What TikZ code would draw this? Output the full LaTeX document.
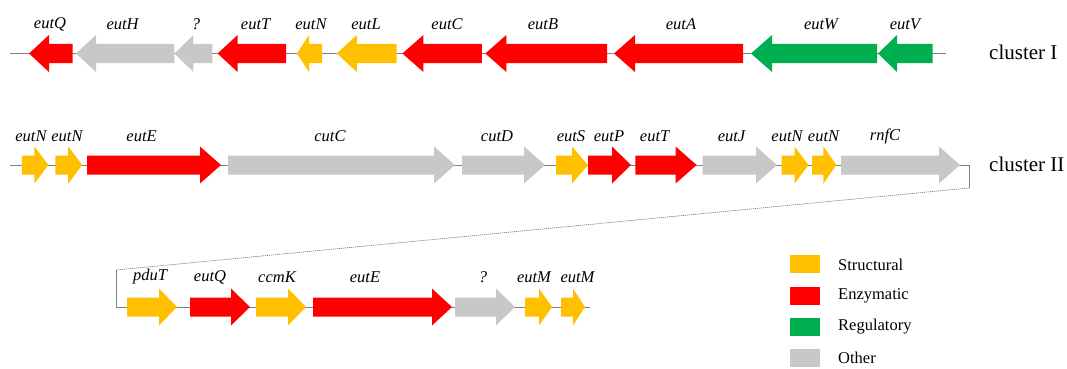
\documentclass[tikz,border=0pt]{standalone}
\usepackage{fontspec}
\setmainfont{Liberation Serif}
\definecolor{gY}{HTML}{FFC000}
\definecolor{gR}{HTML}{FF0000}
\definecolor{gG}{HTML}{00B050}
\definecolor{gO}{HTML}{C8C8C8}
\definecolor{ln}{HTML}{808080}
\newcommand{\geneR}[5]{\fill[#4] (#1,{#3-9.5}) -- ({#2-#5},{#3-9.5}) -- ({#2-#5},{#3-18.5}) -- (#2,#3) -- ({#2-#5},{#3+18.5}) -- ({#2-#5},{#3+9.5}) -- (#1,{#3+9.5}) -- cycle;}
\newcommand{\geneL}[5]{\fill[#4] (#2,{#3-9.5}) -- ({#1+#5},{#3-9.5}) -- ({#1+#5},{#3-18.5}) -- (#1,#3) -- ({#1+#5},{#3+18.5}) -- ({#1+#5},{#3+9.5}) -- (#2,{#3+9.5}) -- cycle;}
\begin{document}
\begin{tikzpicture}[x=1pt,y=-1pt,
  lbl/.style={font=\fontsize{16.5}{20}\selectfont\itshape, inner sep=0pt},
  clab/.style={font=\fontsize{21}{24}\selectfont, anchor=west, inner sep=0pt},
  leg/.style={font=\fontsize{16.5}{19}\selectfont, anchor=west, inner sep=0pt},
  bb/.style={draw=ln, line width=0.8pt}]
\useasboundingbox (0,0) rectangle (1067,369);
% ---------- cluster I ----------
\coordinate (a0) at (10,53.5); \coordinate (a1) at (946,53.5);
\draw[bb] (a0) -- (a1);
\geneL{29}{72.5}{53.5}{gR}{20}
\geneL{76}{174.4}{53.5}{gO}{20}
\geneL{174.4}{212.4}{53.5}{gO}{19}
\geneL{217.6}{286}{53.5}{gR}{20}
\geneL{297}{322}{53.5}{gY}{12}
\geneL{336.8}{396.5}{53.5}{gY}{20}
\geneL{402.4}{481.9}{53.5}{gR}{21}
\geneL{485.3}{607}{53.5}{gR}{21}
\geneL{614}{743}{53.5}{gR}{21}
\geneL{751}{877}{53.5}{gG}{21}
\geneL{878}{932.6}{53.5}{gG}{19}
\node[lbl] (l1) at (50,24) {eutQ};
\node[lbl] (l2) at (122.6,24) {eutH};
\node[lbl] (l3) at (196,24) {?};
\node[lbl] (l4) at (255.6,24) {eutT};
\node[lbl] (l5) at (311,24) {eutN};
\node[lbl] (l6) at (366,24) {eutL};
\node[lbl] (l7) at (447,24) {eutC};
\node[lbl] (l8) at (543,24) {eutB};
\node[lbl] (l9) at (681,24) {eutA};
\node[lbl] (l10) at (821,24) {eutW};
\node[lbl] (l11) at (905,24) {eutV};
\node[clab] (c1) at (989,52) {cluster I};
% ---------- cluster II ----------
\coordinate (b0) at (10,165); \coordinate (b1) at (969,165);
\coordinate (b2) at (969,188); \coordinate (b3) at (116,270);
\coordinate (b4) at (116,307); \coordinate (b5) at (590,307);
\draw[bb] (b0) -- (b1) -- (b2);
\draw[draw=ln, line width=0.7pt, dash pattern=on 1.2pt off 0.8pt] (b2) -- (b3);
\draw[bb] (b3) -- (b4) -- (b5);
\geneR{21.8}{48.4}{165}{gY}{14}
\geneR{55.3}{82.2}{165}{gY}{14}
\geneR{87}{221}{165}{gR}{21}
\geneR{228}{455}{165}{gO}{21}
\geneR{462}{545}{165}{gO}{21}
\geneR{556}{588}{165}{gY}{16}
\geneR{588}{631}{165}{gR}{19}
\geneR{635.4}{696.6}{165}{gR}{21}
\geneR{702.5}{777}{165}{gO}{21}
\geneR{781.5}{808.5}{165}{gY}{14}
\geneR{812}{836.4}{165}{gY}{13}
\geneR{841}{960}{165}{gO}{21}
\node[lbl] (m1) at (31,136) {eutN};
\node[lbl] (m2) at (67,136) {eutN};
\node[lbl] (m3) at (141.6,136) {eutE};
\node[lbl] (m4) at (330,136) {cutC};
\node[lbl] (m5) at (497,136) {cutD};
\node[lbl] (m6) at (571,136) {eutS};
\node[lbl] (m7) at (609,136) {eutP};
\node[lbl] (m8) at (654.6,136) {eutT};
\node[lbl] (m9) at (731.5,136) {eutJ};
\node[lbl] (m10) at (787,136) {eutN};
\node[lbl] (m11) at (823.5,136) {eutN};
\node[lbl] (m12) at (885,136) {rnfC};
\node[clab] (c2) at (989,164) {cluster II};
% ---------- continuation ----------
\geneR{127}{177}{307}{gY}{18}
\geneR{190}{250}{307}{gR}{19}
\geneR{256}{306}{307}{gY}{18}
\geneR{313}{452}{307}{gR}{20}
\geneR{455}{515}{307}{gO}{19}
\geneR{525}{552}{307}{gY}{13}
\geneR{561}{585}{307}{gY}{12}
\node[lbl] (n1) at (150,277) {pduT};
\node[lbl] (n2) at (210,277) {eutQ};
\node[lbl] (n3) at (277,277) {ccmK};
\node[lbl] (n4) at (365,277) {eutE};
\node[lbl] (n5) at (483,277) {?};
\node[lbl] (n6) at (534,277) {eutM};
\node[lbl] (n7) at (577.5,277) {eutM};
% ---------- legend ----------
\fill[gY] (790,255) rectangle (820,273);
\fill[gR] (790,287) rectangle (820,305);
\fill[gG] (790,318) rectangle (820,336);
\fill[gO] (790,349) rectangle (820,367);
\node[leg] (t1) at (838,265) {Structural};
\node[leg] (t2) at (838,296) {Enzymatic};
\node[leg] (t3) at (838,327) {Regulatory};
\node[leg] (t4) at (838,358) {Other};
\end{tikzpicture}
\end{document}
